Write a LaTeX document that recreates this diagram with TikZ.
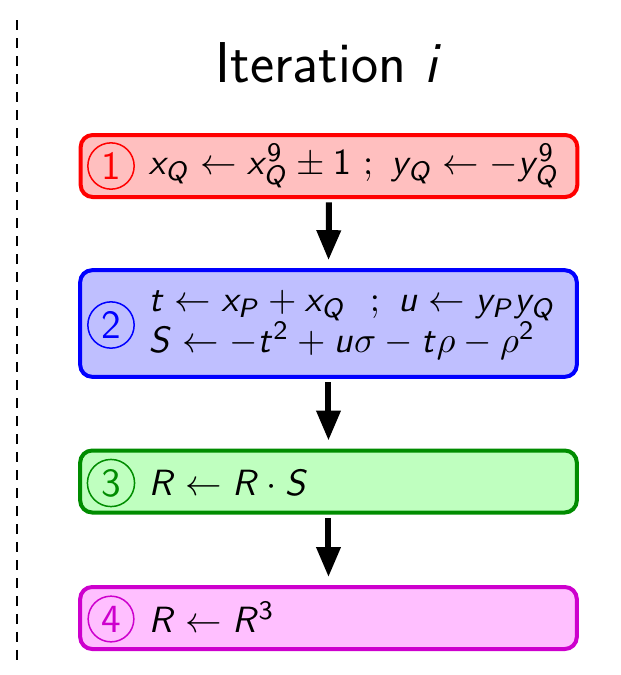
\documentclass[tikz,border=0pt]{standalone}
\usetikzlibrary{arrows.meta}
\renewcommand{\familydefault}{\sfdefault}
\DeclareSymbolFont{sfletters}{OT1}{cmss}{m}{sl}
\DeclareSymbolFont{sfupright}{OT1}{cmss}{m}{n}
\DeclareMathSymbol{x}{\mathalpha}{sfletters}{`x}
\DeclareMathSymbol{y}{\mathalpha}{sfletters}{`y}
\DeclareMathSymbol{t}{\mathalpha}{sfletters}{`t}
\DeclareMathSymbol{u}{\mathalpha}{sfletters}{`u}
\DeclareMathSymbol{i}{\mathalpha}{sfletters}{`i}
\DeclareMathSymbol{S}{\mathalpha}{sfletters}{`S}
\DeclareMathSymbol{R}{\mathalpha}{sfletters}{`R}
\DeclareMathSymbol{P}{\mathalpha}{sfletters}{`P}
\DeclareMathSymbol{Q}{\mathalpha}{sfletters}{`Q}
\DeclareMathSymbol{1}{\mathord}{sfupright}{`1}
\DeclareMathSymbol{2}{\mathord}{sfupright}{`2}
\DeclareMathSymbol{3}{\mathord}{sfupright}{`3}
\DeclareMathSymbol{9}{\mathord}{sfupright}{`9}
\definecolor{gdark}{RGB}{0,140,0}
\definecolor{mdark}{RGB}{205,0,205}
\definecolor{mfill}{RGB}{255,191,255}
\definecolor{rfill}{RGB}{255,191,191}
\definecolor{bfill}{RGB}{191,191,255}
\definecolor{gfill}{RGB}{191,255,191}
\tikzset{
  stagebox/.style={draw=#1, line width=1.2pt, rounded corners=3.6pt, minimum width=149pt, inner sep=0pt},
  numcirc/.style={circle, draw=#1, text=#1, inner sep=1.4pt, line width=0.45pt, font=\sffamily\fontsize{12}{13}\selectfont},
  stagetext/.style={anchor=west, inner sep=0pt, align=left, font=\sffamily\fontsize{11}{13}\selectfont},
  flowarrow/.style={-{Triangle[width=7pt,length=9pt]}, line width=1.8pt, shorten <=1pt, shorten >=2.4pt}
}
\begin{document}
\begin{tikzpicture}[x=0.3pt,y=-0.3pt]
\useasboundingbox (0,0) rectangle (621,675);
\coordinate (dtop) at (17,20);
\coordinate (dbot) at (17,666);
\draw[line width=0.6pt, dash pattern=on 3pt off 2.4pt] (dtop) -- (dbot);
\node[font=\sffamily\LARGE] (title) at (329,63) {Iteration $i$};
\node[stagebox=red, fill=rfill, minimum height=18.6pt] (b1) at (329,166) {};
\node[stagebox=blue, fill=bfill, minimum height=32pt] (b2) at (328.5,323.5) {};
\node[stagebox=gdark, fill=gfill, minimum height=18.6pt] (b3) at (328.5,481.5) {};
\node[stagebox=mdark, fill=mfill, minimum height=18.6pt] (b4) at (328.5,618) {};
\node[numcirc=red] (c1) at (111,166) {1};
\node[numcirc=blue] (c2) at (111,325) {2};
\node[numcirc=gdark] (c3) at (111,483) {3};
\node[numcirc=mdark] (c4) at (111,619) {4};
\node[stagetext] (t1) at (148,166) {$x_Q \leftarrow x_Q^9 \pm 1\ ;\ y_Q \leftarrow -y_Q^9$};
\node[stagetext] (t2) at (148,325) {$t \leftarrow x_P + x_Q\ \ ;\ u \leftarrow y_P y_Q$\\[-0.8pt]$S \leftarrow -t^2 + u\sigma - t\rho - \rho^2$};
\node[stagetext] (t3) at (148,483) {$R \leftarrow R \cdot S$};
\node[stagetext] (t4) at (148,617) {$R \leftarrow R^3$};
\draw[flowarrow] (b1.south) -- (b2.north);
\draw[flowarrow] (b2.south) -- (b3.north);
\draw[flowarrow] (b3.south) -- (b4.north);
\end{tikzpicture}
\end{document}
